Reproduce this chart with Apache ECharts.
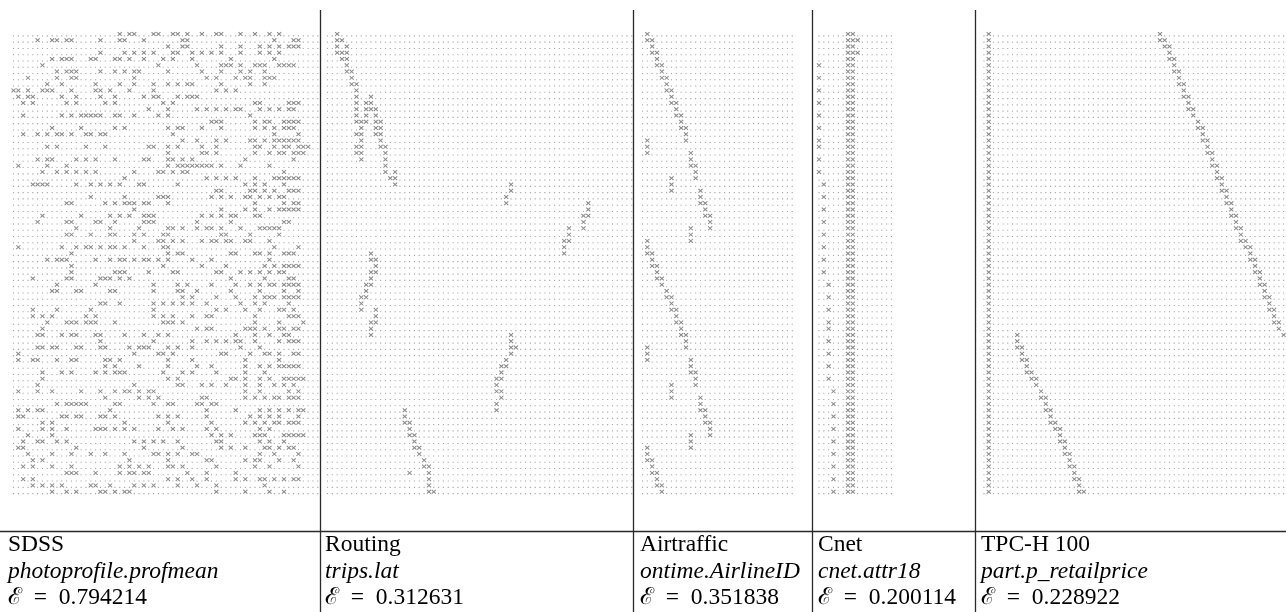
<!DOCTYPE html>
<html><head><meta charset="utf-8">
<script src="https://cdn.jsdelivr.net/npm/echarts@6.0.0/dist/echarts.min.js"></script>
<style>html,body{margin:0;padding:0;background:#fff}#c{width:1286px;height:612px}</style>
</head><body><div id="c"></div>
<script>
// ---- data: each row lists "startColumn:pattern" runs, 'x' = mark, '.' = empty cell ----
const panelNames   = ['SDSS', 'Routing', 'Airtraffic', 'Cnet', 'TPC-H 100'];
const panelColumns = ['photoprofile.profmean', 'trips.lat', 'ontime.AirlineID', 'cnet.attr18', 'part.p_retailprice'];
const panelErrors  = ['0.794214', '0.312631', '0.351838', '0.200114', '0.228922'];
const panelBins    = [64, 64, 32, 16, 64];

const sdssRows = [
"22:x.xx 29:xx 33:xx.x 39:x 42:xx 47:x 50:x 53:x.x",
"5:x 8:xx.xx 18:x 22:xx 27:x 35:xx 54:x 58:xx",
"32:x..xx 43:x 47:x 51:x.x.x.xxx",
"18:x 23:x.x.x.x 33:xx 37:x.x.x.x 47:x 51:x.x.x",
"8:x.xxx 16:xx 21:xx.x 27:x 31:x.x 37:x 45:x 54:x",
"6:x 30:x 38:x 43:xxx.x 50:xxx 55:xxxx",
"9:x 11:xxx 18:x 21:x.x.xx 32:x 39:x 43:x 47:x 49:x 52:x",
"3:x 9:x 12:xx 25:x 40:x.x 46:x.xx 52:xxx",
"7:x 10:x 17:x 22:x 25:x 29:x 32:x.x 36:xx 43:x 49:x 52:x",
"0:xx.x 6:xxx 12:x 17:xx.x 24:x 29:x 42:x.x.x",
"1:x.xx 10:x 13:x 18:x 21:x 27:x.xx 34:x.xxx",
"2:x.x 11:x.x 19:x.x 31:x.x 50:xx 57:xxx",
"28:x 32:x 38:x.x.x.x.xx 51:x.x.x.xx",
"2:x 10:x.x 14:xxxxx 21:xx 25:x 30:x 32:x 49:x",
"41:xxx 50:x.xx 56:xxxx",
"8:x 14:x 21:x.x 32:x 34:xx 39:x 43:x 50:x.x.x.xxx",
"2:x 5:x.x.xx.x 15:xx.xx 33:x 54:x 59:x",
"35:x 38:x 42:x.x 49:xx 52:x.xxxxxx",
"7:x.x 15:x 19:x 28:xx 32:x.x 39:x 42:x 50:xx 54:x 56:xx.xxx",
"32:x 39:xx.x 50:x 53:x.xx.xxx",
"5:x 7:xx 13:x.x.x 21:x 27:xx 32:xx 35:x.x 48:x 58:x",
"1:x 7:x 11:x 32:x 34:xxxxxxxx 43:x 47:x 53:x",
"6:x 9:x.x.x 15:x.x 25:x 30:xx 33:x.xx 56:x",
"23:x 40:x.x 44:x.x 50:x 54:xxxxxx",
"4:xxxx 13:x 16:x.x.x.x 26:xx 34:x 48:x 50:x.x 56:x",
"42:xx 49:xx 52:x.x 57:xxx",
"16:x 23:x 30:xxx 41:x.x 45:x 48:xx.x 53:x.xx",
"11:xx 19:x 21:x.xxx.xx 32:x 50:x 56:x.xx",
"25:x 43:x 48:x.x 53:x.xxxxx",
"6:x 14:x 20:x.x.x 27:xxx 39:x.x.x 45:xx 50:xx",
"5:x 11:xx 17:xx 21:x 27:xxx 38:x 45:x 56:xx",
"13:x 20:x 26:x 32:xx 35:x 38:x.xx.x 47:x 51:xxxxx",
"11:xx 16:x 20:xx 25:x.x 31:xx 43:xx 49:x 55:x",
"25:x 30:xx.x 35:x 39:x.xx 44:xx 48:xx 53:x",
"1:x 10:x 13:x.xx.x 20:xx 23:x 27:x 31:xx 54:x 59:x",
"12:x 32:x.xx 45:xx 50:xx.x 56:xxx",
"7:x.xxx 17:x 20:x.xx.x.xx 30:x.x 37:x 41:x 53:x",
"12:x 31:x 39:x 44:x 52:x.x.xxxx",
"12:x 21:xxx 28:x 33:xx 42:xx 47:x 49:x.x.x 55:xx",
"4:x 11:xx 18:xxx 22:x.x 45:x 52:x 57:xx",
"9:x 17:x 29:x 34:x.x 41:x 46:x 49:x.x.xx 56:xxxx",
"8:xx 13:xx 20:xx 29:x 34:xx 38:x 45:x 51:x 56:x..x",
"35:x.x 42:x 46:x 50:x 52:xxx.xxxx",
"18:xx 22:x 29:x.x.x.x.x 40:x 47:x 50:x.x 57:x",
"4:x 9:x 16:x 29:x 42:x.x 48:x 51:x 55:xx.x",
"4:x.x.x 15:x.x 29:x.x 33:x 37:x 40:xx 50:x 57:xxx",
"7:x 11:xxx.xxx 21:x 31:xxx.x 50:x 55:x 60:x",
"6:x 38:x.xx 48:xxx 52:x 55:xx.xx",
"5:xx 10:x 12:xx 17:xx 23:x 27:x 30:x.x 46:x 50:x 53:x 56:xx",
"18:x 29:x 37:x 40:x.x.x.xx 50:x 55:x.xxx",
"5:xx.xx 13:xx 18:xx 24:x.xxx 32:x.x 37:x 47:x 51:x",
"1:x 25:x 30:xx 33:x 43:xx 49:x 52:xx.x 58:xx",
"1:x 4:xx 9:x 12:xx 19:xx.x 32:x 37:x 48:x 55:x",
"19:x 21:x 26:x 32:x 38:x 41:x 48:x 51:x.x 55:xxxxx",
"6:x 10:x.x 17:x.x 21:xxx 31:x 35:x.x 42:x 48:x 52:x",
"6:x 32:x.x 45:xx.x 51:x 53:x 56:xxxxx",
"5:x 25:x 34:xx 39:x.x 44:x 48:x 51:x 54:x.x.x",
"1:x 5:x 8:x 14:x 18:x 21:x 23:xx.x.xx 48:x 51:x 57:x.x",
"19:x 26:x 28:x.x 39:xx 48:x.x.x.xx.xxx",
"9:x.xxxxx 21:xx 29:x 32:xx 38:xx 41:xx",
"1:x.x.xx 20:x 40:x 46:x 51:x 53:x.x.x.xx",
"1:xx 10:xx.xx 18:xx.x 30:x.x.x 40:x 49:x.x 53:x.x 59:x",
"6:x.x 23:x 32:x 41:x 48:x 50:x.x 54:xx.xxx",
"1:x 6:x.x 11:x 17:xxx.x 23:x.x 30:x 33:x.x 40:x 42:x 51:x.x",
"3:x 8:x 41:x.x.x 50:xxx 56:xxxxx",
"2:x 5:xx 9:x.x 25:x.x.x.x 34:x 42:xx 51:x.x 56:x",
"1:xx 13:x 27:x 35:x 43:x 45:x 48:x 52:xx.x 57:xx",
"3:x 8:x 12:x 16:x 19:x 23:x 29:xx 32:x 34:x 37:xx 51:x 54:x 59:x",
"4:x.x 24:x 32:x 40:xx 48:x 50:xx 55:x 58:x",
"2:x.x 8:x 12:x 22:x.x.x 28:x 32:xx 35:x 42:x 50:x 53:x 59:x",
"11:xxx 17:x 22:x.xx.xx 36:x 40:x 46:x",
"2:x.x 32:x 34:x 37:x 40:x 46:x 48:x 51:xx 54:x.x.xx",
"4:x.x.x 10:x 16:xx 20:x 25:x.x.x 34:x 38:x 42:x 52:x",
"8:x 11:x.x 18:xx.x.xx 42:x 48:x 53:x 56:x"
];

const routingRows = [
"2:x","2:xx","2:x.x","2:xxx","3:xx","4:x","4:xx","5:x","5:xx","6:x",
"6:x 9:x","6:x 8:xx","6:x 8:xxx","6:x 8:x.x","6:xxx 10:xx","7:x 10:xx","6:xx 10:xx","7:x 11:x","6:xx 11:xx","6:xx 12:x",
"7:x 12:x","12:x","12:x.x","13:xx","14:x 38:x","38:x","37:x","37:x 54:x","54:x","53:xx",
"53:x","50:x 53:x","50:x","49:xx","49:x","9:x 49:x","9:xx","10:x","9:xx","9:x",
"8:xx","8:x","7:xx","7:x","7:x 10:x","10:x","9:xx","9:x","9:x 38:x","38:x",
"38:xx","38:x","37:x","36:xx","36:x","35:xx","35:x","35:xx","36:x","35:x",
"16:x 35:x","16:x","16:xx","17:x","17:xx","18:x","18:xx","19:x","20:x","20:xx",
"17:x 21:x","21:x","21:x","21:xx"
];

const airtrafficRows = [
"1:x","1:xx","2:x","2:xx","3:x","3:xx","4:x","4:xx","5:x","5:xx",
"6:x","6:xx","7:x","7:xx","8:x","8:xx","9:x","1:x 9:x","1:x","1:x 10:x",
"10:x","10:xx","11:x","6:x 11:x","6:x","6:x 12:x","12:x","12:xx","13:x","13:xx",
"14:x","10:x 14:x","10:x","1:x 10:x","1:x","1:xx","2:x","2:xx","3:x","3:xx",
"4:x","5:x","5:xx","6:x","6:xx","7:x","7:xx","8:x","8:xx","9:x",
"1:x 9:x","1:x","1:x 10:x","10:x","10:xx","11:x","6:x 11:x","6:x","6:x 12:x","12:x",
"12:xx","13:x","13:xx","14:x","10:x 14:x","10:x","1:x 10:x","1:x","1:xx","2:x",
"2:xx","3:x","3:xx","4:x"
];

const cnetRows = [
"6:xx","6:xxx","6:xx","6:xxx","6:xx","0:x 6:xx","6:xx","0:x 6:xx","6:xx","0:x 6:xx",
"6:xx","0:x 6:xx","6:xx","0:x 6:xx","6:xx","0:x 6:xx","6:xx","0:x 6:xx","0:x 6:xx","6:xx",
"0:x 6:xx","6:xx","0:x 6:xx","6:xx","1:x 6:xx","6:xx","1:x 6:xx","6:xx","1:x 6:xx","6:xx",
"1:x 6:xx","6:xx","1:x 6:xx","6:xx","1:x 6:xx","6:xx","1:x 6:xx","6:xx","1:x 6:xx","6:xx",
"2:x 6:xx","6:xx","2:x 6:xx","6:xx","2:x 6:xx","6:xx","2:x 6:xx","2:x 6:xx","6:xx","2:x 6:xx",
"6:xx","2:x 6:xx","6:xx","2:x 6:xx","6:xx","2:x 6:xx","6:xx","3:x 6:xx","6:xx","3:x 6:xx",
"6:xx","3:x 6:xx","6:xx","3:x 6:xx","6:xx","3:x 6:xx","6:xx","3:x 6:xx","6:xx","3:x 6:xx",
"6:xx","3:x 6:xx","6:xx","3:x 6:xx"
];

const tpchRows = [
"1:x 37:x","1:x 37:xx","1:x 38:xx","1:x 39:x","1:x 39:xx","1:x 40:x","1:x 40:xx","1:x 41:x","1:x 41:xx","1:x 42:x",
"1:x 42:xx","1:x 43:x","1:x 43:xx","1:x 44:x","1:x 45:x","1:x 45:xx","1:x 46:x","1:x 46:xx","1:x 47:x","1:x 47:xx",
"1:x 48:x","1:x 48:xx","1:x 49:x","1:x 49:xx","1:x 50:x","1:x 50:xx","1:x 51:x","1:x 51:xx","1:x 52:x","1:x 52:xx",
"1:x 53:x","1:x 53:xx","1:x 54:x","1:x 54:xx","1:x 55:xx","1:x 56:x","1:x 56:xx","1:x 57:x","1:x 57:xx","1:x 58:x",
"1:x 58:xx","1:x 59:x","1:x 59:xx","1:x 60:x","1:x 60:xx","1:x 61:x","1:x 61:xx","1:x 62:x","1:x 7:x 63:x","1:x 7:x",
"1:x 7:xx","1:x 8:x","1:x 8:xx","1:x 9:x","1:x 9:xx","1:x 10:xx","1:x 11:x","1:x 12:x","1:x 12:xx","1:x 13:x",
"1:x 13:xx","1:x 14:x","1:x 14:xx","1:x 15:xx","1:x 16:x","1:x 16:xx","1:x 17:x","1:x 17:xx","1:x 18:x","1:x 18:xx",
"1:x 19:x","1:x 19:xx","1:x 20:x","1:x 20:xx"
];

const panelRows = [sdssRows, routingRows, airtrafficRows, cnetRows, tpchRows];

// ---- layout (pixels) ----
const PITCH = 4.83, ROWH = 6.27, GRID_TOP = 31.15;
const firstCellX = [13.5, 327.5, 642.5, 819, 984];
const separators = [320.5, 633.5, 812.5, 975.5];
const labelX = [8, 325, 640, 818, 981];

function parseRow(s) {
  const set = new Set();
  s.trim().split(/\s+/).forEach(t => {
    const [c, p] = t.split(':');
    for (let i = 0; i < p.length; i++) if (p[i] === 'x') set.add(+c + i);
  });
  return set;
}

const grids = [], xAxes = [], yAxes = [], series = [];
panelRows.forEach((rows, pi) => {
  const n = panelBins[pi];
  const marks = [], dots = [];
  rows.forEach((s, r) => {
    const set = parseRow(s);
    for (let c = 0; c < n; c++) (set.has(c) ? marks : dots).push([c, r]);
  });
  grids.push({ left: firstCellX[pi] - PITCH / 2, top: GRID_TOP, width: n * PITCH, height: rows.length * ROWH, containLabel: false });
  xAxes.push({ gridIndex: pi, type: 'value', min: -0.5, max: n - 0.5, show: false });
  yAxes.push({ gridIndex: pi, type: 'value', min: -0.5, max: rows.length - 0.5, inverse: true, show: false });
  series.push({
    type: 'scatter', xAxisIndex: pi, yAxisIndex: pi, data: dots, symbol: 'rect', symbolSize: 1.1,
    symbolOffset: [0, 1.6], itemStyle: { color: '#8c8c8c' }, silent: true, progressive: 0, animation: false
  });
  series.push({
    type: 'scatter', xAxisIndex: pi, yAxisIndex: pi, data: marks,
    symbol: 'path://M0,0L10,10M10,0L0,10', symbolSize: [4.1, 3.8], symbolOffset: [0, -0.3],
    itemStyle: { color: 'rgba(0,0,0,0)', borderColor: '#6a6a6a', borderWidth: 1.0 },
    silent: true, progressive: 0, animation: false
  });
});

const graphics = [];
separators.forEach(x => graphics.push({ type: 'line', silent: true, shape: { x1: x, y1: 10, x2: x, y2: 612 }, style: { stroke: '#2a2a2a', lineWidth: 1.3 } }));
graphics.push({ type: 'line', silent: true, shape: { x1: 0, y1: 531.5, x2: 1286, y2: 531.5 }, style: { stroke: '#2a2a2a', lineWidth: 1.5 } });
const FONT = '"Liberation Serif","Times New Roman",serif';
panelNames.forEach((name, i) => {
  graphics.push({ type: 'text', silent: true, style: { text: name, x: labelX[i], y: 545, font: '23.5px ' + FONT, fill: '#000', verticalAlign: 'middle' } });
  graphics.push({ type: 'text', silent: true, style: { text: panelColumns[i], x: labelX[i], y: 571.5, font: 'italic 23.5px ' + FONT, fill: '#000', verticalAlign: 'middle' } });
  graphics.push({ type: 'text', silent: true, style: { text: 'ℰ\u2002=\u2002' + panelErrors[i], x: labelX[i], y: 598, font: '23.5px ' + FONT, fill: '#000', verticalAlign: 'middle' } });
});

const chart = echarts.init(document.getElementById('c'), null, { renderer: 'canvas' });
chart.setOption({ animation: false, grid: grids, xAxis: xAxes, yAxis: yAxes, series: series, graphic: graphics });
</script>
</body></html>
